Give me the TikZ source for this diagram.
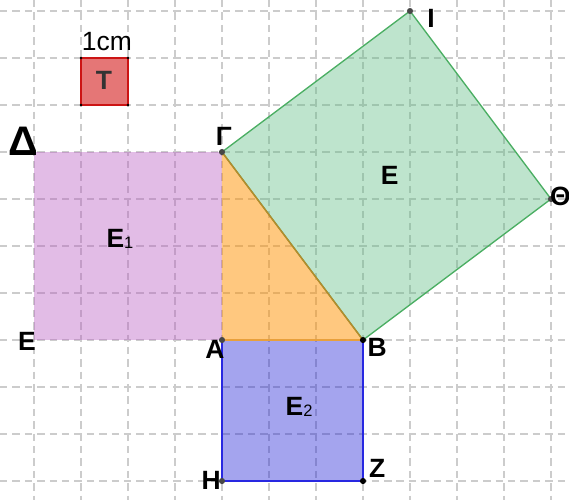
\documentclass[tikz,border=0pt]{standalone}
\usepackage{fontspec}
\setmainfont{Liberation Sans}
\definecolor{purplefill}{RGB}{183,88,193}
\definecolor{orangefill}{RGB}{255,145,0}
\definecolor{orangeedge}{RGB}{232,160,60}
\definecolor{oliveedge}{RGB}{178,140,45}
\definecolor{greenfill}{RGB}{92,187,130}
\definecolor{bluefill}{RGB}{27,27,212}
\definecolor{greenedge}{RGB}{76,175,100}
\definecolor{blueedge}{RGB}{40,40,225}
\definecolor{redfill}{RGB}{229,118,118}
\definecolor{rededge}{RGB}{204,20,20}
\begin{document}
\begin{tikzpicture}[x=1cm,y=1cm,
  gridline/.style={gray!40,line width=0.8pt,dash pattern=on 4.5pt off 3pt},
  lbl/.style={font=\fontsize{16}{16}\selectfont\bfseries,inner sep=0pt},
  vertex/.style={fill=black!72}]
\useasboundingbox (-4.723,-3.404) rectangle (7.383,7.234);

% grid
\foreach \x in {-4,...,7} \draw[gridline] (\x,7.234) -- (\x,-3.404);
\foreach \y in {-3,...,7} \draw[gridline] (-4.723,\y) -- (7.383,\y);

% points
\coordinate (A) at (0,0);
\coordinate (B) at (3,0);
\coordinate (G) at (0,4);
\coordinate (D) at (-4,4);
\coordinate (E) at (-4,0);
\coordinate (H) at (0,-3);
\coordinate (Z) at (3,-3);
\coordinate (I) at (4,7);
\coordinate (Th) at (7,3);

% squares and triangle
\fill[purplefill,fill opacity=0.4] (D) -- (G) -- (A) -- (E) -- cycle;
\filldraw[fill=bluefill,fill opacity=0.4,draw=blueedge,line width=0.8pt] (A) -- (B) -- (Z) -- (H) -- cycle;
\filldraw[fill=greenfill,fill opacity=0.4,draw=greenedge,line width=0.8pt] (G) -- (B) -- (Th) -- (I) -- cycle;
\fill[orangefill,fill opacity=0.5] (A) -- (B) -- (G) -- cycle;
\draw[orangeedge,line width=0.9pt] (A) -- (B);
\draw[oliveedge,line width=0.9pt] (B) -- (G);

% unit square
\filldraw[fill=redfill,draw=rededge,line width=0.8pt] (-3,5) rectangle (-2,6);
\foreach \p in {(-3,5),(-2,5),(-3,6),(-2,6)} \fill[black] \p circle(0.03);
\node[lbl] (t) at (-2.51,5.53) {\textcolor{black!80}{T}};
\node[font=\fontsize{16}{16}\selectfont,inner sep=0pt] (unit) at (-2.45,6.34) {1cm};

% vertices
\fill[vertex] (A) circle(0.065);
\fill[vertex] (G) circle(0.065);
\fill[vertex] (H) circle(0.065);
\fill[vertex] (I) circle(0.065);
\fill[vertex] (Th) circle(0.065);
\fill[black] (B) circle(0.065);
\fill[black] (Z) circle(0.065);

% labels
\node[lbl,font=\fontsize{25}{25}\selectfont\bfseries] (lD) at (-4.23,4.23) {Δ};
\node[lbl] (lG) at (0.04,4.34) {Γ};
\node[lbl] (lA) at (-0.15,-0.21) {Α};
\node[lbl] (lB) at (3.3,-0.15) {Β};
\node[lbl] (lH) at (-0.23,-2.98) {Η};
\node[lbl] (lZ) at (3.3,-2.74) {Ζ};
\node[lbl] (lI) at (4.45,6.85) {Ι};
\node[lbl] (lTh) at (7.2,3.06) {Θ};
\node[lbl] (lE) at (-4.15,-0.02) {Ε};
\node[lbl] (e) at (3.57,3.51) {Ε};
\node[lbl] (e1) at (-2.17,2.15) {Ε\raisebox{-0.5pt}{\fontsize{10}{10}\selectfont\mdseries 1}};
\node[lbl] (e2) at (1.64,-1.43) {Ε\raisebox{-0.5pt}{\fontsize{10}{10}\selectfont\mdseries 2}};
\end{tikzpicture}
\end{document}
